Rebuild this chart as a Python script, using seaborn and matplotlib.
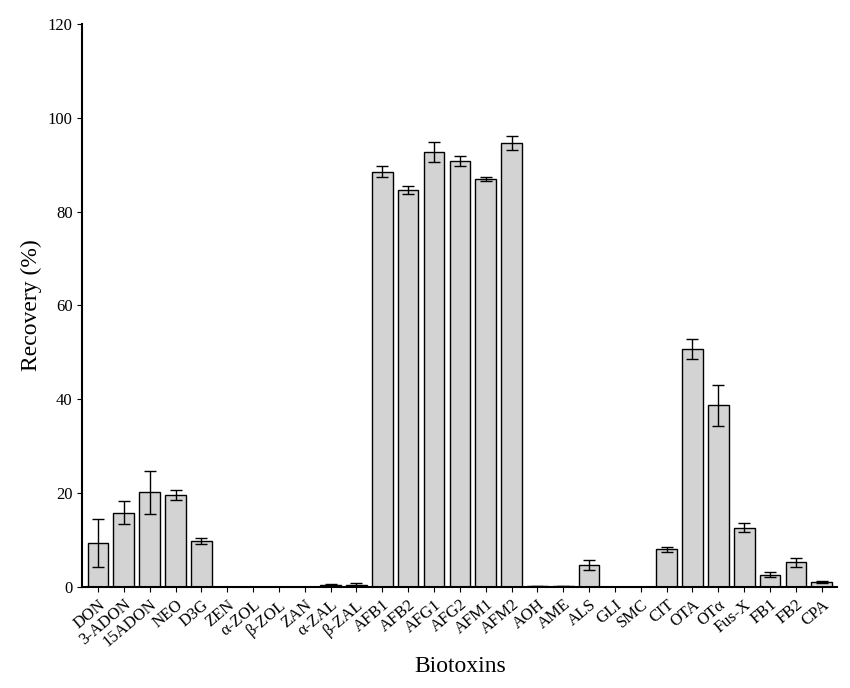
import numpy as np
import pandas as pd
import seaborn as sns
import matplotlib.pyplot as plt

plt.rcParams["font.family"] = "Liberation Serif"

toxins = ["DON", "3-ADON", "15ADON", "NEO", "D3G", "ZEN", "α-ZOL", "β-ZOL", "ZAN",
          "α-ZAL", "β-ZAL", "AFB1", "AFB2", "AFG1", "AFG2", "AFM1", "AFM2", "AOH",
          "AME", "ALS", "GLI", "SMC", "CIT", "OTA", "OTα", "Fus-X", "FB1", "FB2", "CPA"]
recovery = [9.3, 15.8, 20.2, 19.6, 9.8, 0, 0, 0, 0, 0.4, 0.5, 88.5, 84.6, 92.7, 90.8,
            87.0, 94.7, 0.1, 0.1, 4.7, 0, 0, 8.0, 50.7, 38.7, 12.6, 2.6, 5.2, 1.0]
err = [5.1, 2.5, 4.6, 1.0, 0.6, 0, 0, 0, 0, 0.3, 0.3, 1.2, 0.8, 2.1, 1.0, 0.4, 1.5,
       0.1, 0.1, 1.0, 0, 0, 0.5, 2.2, 4.3, 1.0, 0.5, 0.9, 0.2]

df = pd.DataFrame({"toxin": toxins, "recovery": recovery})

fig, ax = plt.subplots(figsize=(8.5, 6.88), dpi=100)
sns.barplot(data=df, x="toxin", y="recovery", color="#d3d3d3", edgecolor="black",
            linewidth=1, width=0.8, ax=ax)
ax.errorbar(np.arange(len(toxins)), recovery, yerr=err, fmt="none", ecolor="black",
            elinewidth=1, capsize=4)

ax.set_ylim(0, 120)
ax.set_xlim(-0.6, len(toxins) - 0.4)
ax.set_yticks(range(0, 121, 20))
ax.tick_params(axis="y", labelsize=12, direction="out")
ax.set_xticks(range(len(toxins)))
ax.set_xticklabels(toxins, rotation=40, ha="right", fontsize=12, rotation_mode="anchor")
ax.set_ylabel("Recovery (%)", fontsize=17)
ax.set_xlabel("Biotoxins", fontsize=17)
for s in ["top", "right"]:
    ax.spines[s].set_visible(False)
ax.spines["left"].set_linewidth(1.5)
ax.spines["bottom"].set_linewidth(1.5)
plt.subplots_adjust(left=0.097, right=0.985, top=0.965, bottom=0.147)
plt.savefig("out.png")
